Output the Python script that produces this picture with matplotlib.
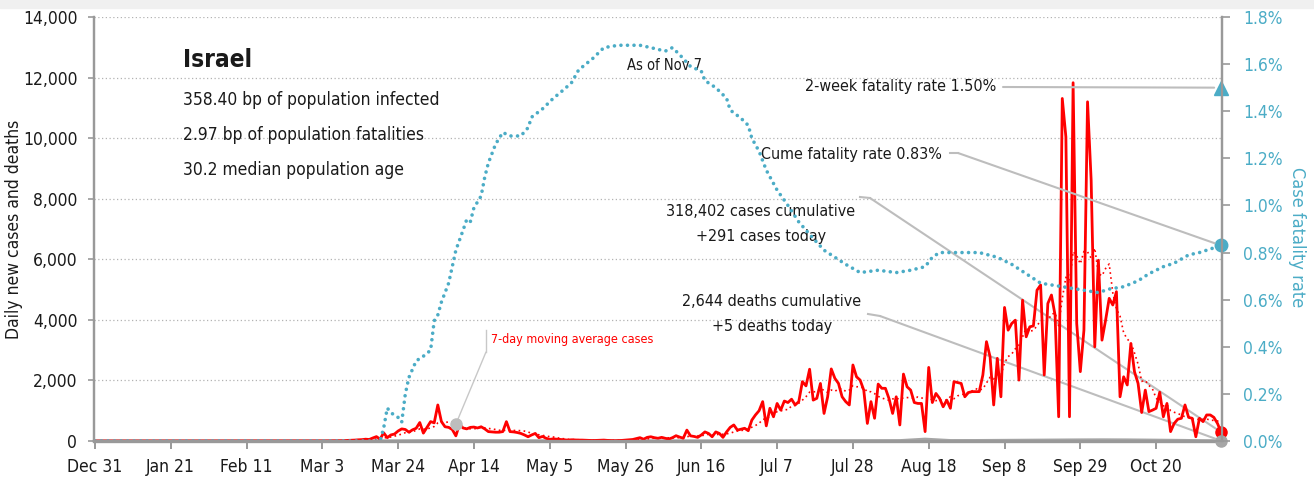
import pandas as pd
import numpy as np
import matplotlib
matplotlib.use("Agg")
import matplotlib.pyplot as plt
import matplotlib.font_manager as fm
from matplotlib.ticker import FuncFormatter, MultipleLocator

# pick a narrow face if one is installed
ttf = fm.fontManager.ttflist
names = {f.name for f in ttf}
narrow = [f for f in ttf if 'Narrow' in f.name or 'Condensed' in f.name
          or f.stretch in ('condensed', 'semi-condensed', 'extra-condensed')]
if 'Liberation Sans Narrow' in names:
    FAMILY = 'Liberation Sans Narrow'
elif narrow:
    FAMILY = narrow[0].name
    plt.rcParams['font.stretch'] = narrow[0].stretch
else:
    FAMILY = 'Roboto'
plt.rcParams['font.family'] = [FAMILY, 'DejaVu Sans']

# daily new cases (Mar 1 .. Nov 7 2020, zero before)
mar = [1, 2, 1, 3, 4, 2, 5, 8, 10, 20, 25, 30, 40, 45, 60, 50, 100, 145, 60, 270,
       110, 200, 230, 330, 400, 380, 290, 370, 420, 610, 260]
apr = [450, 640, 600, 1190, 640, 470, 450, 380, 170, 550, 430, 400, 450, 460, 430,
       470, 400, 310, 300, 290, 290, 310, 640, 310, 300, 280, 250, 200, 140, 200]
may = [250, 110, 150, 90, 55, 70, 60, 50, 40, 30, 40, 35, 30, 30, 25, 20, 15, 20,
       25, 30, 20, 15, 10, 15, 20, 30, 40, 50, 80, 110, 60]
jun = [120, 140, 110, 90, 120, 90, 65, 110, 175, 130, 90, 360, 170, 150, 120, 200,
       300, 250, 140, 300, 250, 120, 300, 450, 530, 360, 390, 420, 340, 690]
jul = [860, 1000, 1300, 500, 1080, 800, 1240, 1020, 1320, 1270, 1380, 1190, 1300,
       1960, 1820, 2370, 1350, 1410, 1900, 910, 1460, 2380, 2070, 1900, 1460, 1300,
       1190, 2510, 2120, 2010, 1680]
aug = [580, 1300, 750, 1880, 1740, 1740, 1400, 910, 1460, 530, 2210, 1790, 1680,
       1270, 1240, 1240, 310, 2430, 1270, 1570, 1410, 1130, 1350, 1080, 1960, 1930,
       1900, 1460, 1600, 1630, 1630]
sep = [1630, 2180, 3280, 2780, 1190, 2730, 1460, 4410, 3660, 3880, 3990, 2010, 4650,
       3440, 3770, 3800, 4980, 5150, 2180, 4540, 4820, 4160, 800, 11310, 10040, 800,
       11830, 3880, 2290, 3660]
oct_ = [11200, 8610, 3110, 5970, 3330, 3990, 4710, 4490, 4930, 1460, 2120, 1850,
        3220, 2290, 1900, 940, 1680, 970, 1020, 1080, 1610, 800, 1240, 310, 580, 720,
        750, 1190, 780, 750, 140]
nov = [750, 640, 860, 860, 780, 580, 291]

# daily deaths, rough weekly readings (line sits on the baseline)
death_weeks_start = '2020-03-16'
deaths_weekly = [0, 2, 8, 12, 12, 8, 5, 3, 1, 1, 0, 1, 0, 1, 1, 2, 4, 6, 8, 9, 10,
                 12, 60, 14, 15, 20, 25, 30, 35, 38, 35, 28, 20, 10]
deaths_today = 5

# case fatality rate (%), right axis
cfr_dates = ['2019-12-31', '2020-03-19', '2020-03-20', '2020-03-21', '2020-03-22',
             '2020-03-24', '2020-03-25', '2020-03-26', '2020-03-27', '2020-03-29',
             '2020-03-31', '2020-04-02', '2020-04-03', '2020-04-04', '2020-04-05',
             '2020-04-07', '2020-04-08', '2020-04-09', '2020-04-11', '2020-04-12',
             '2020-04-13', '2020-04-14', '2020-04-16', '2020-04-17', '2020-04-18',
             '2020-04-20', '2020-04-22', '2020-04-24', '2020-04-27', '2020-04-29',
             '2020-04-30', '2020-05-03', '2020-05-06', '2020-05-08', '2020-05-11',
             '2020-05-13', '2020-05-15', '2020-05-17', '2020-05-20', '2020-05-24',
             '2020-05-30', '2020-06-02', '2020-06-06', '2020-06-08', '2020-06-10',
             '2020-06-13', '2020-06-16', '2020-06-17', '2020-06-20', '2020-06-23',
             '2020-06-24', '2020-06-27', '2020-06-29', '2020-06-30', '2020-07-02',
             '2020-07-04', '2020-07-07', '2020-07-10', '2020-07-13', '2020-07-17',
             '2020-07-20', '2020-07-26', '2020-07-30', '2020-08-04', '2020-08-09',
             '2020-08-13', '2020-08-17', '2020-08-19', '2020-08-21', '2020-08-26',
             '2020-09-01', '2020-09-06', '2020-09-10', '2020-09-13', '2020-09-16',
             '2020-09-18', '2020-09-22', '2020-09-26', '2020-09-30', '2020-10-04',
             '2020-10-07', '2020-10-11', '2020-10-15', '2020-10-18', '2020-10-22',
             '2020-10-25', '2020-10-29', '2020-11-01', '2020-11-05', '2020-11-07']
cfr_pct = [0.0, 0.0, 0.055, 0.14, 0.12, 0.10, 0.08, 0.20, 0.27, 0.34, 0.36, 0.385,
           0.51, 0.535, 0.59, 0.67, 0.74, 0.81, 0.895, 0.94, 0.93, 0.99, 1.04, 1.12,
           1.18, 1.26, 1.31, 1.295, 1.295, 1.33, 1.375, 1.41, 1.455, 1.48, 1.52, 1.575,
           1.60, 1.625, 1.67, 1.68, 1.68, 1.67, 1.655, 1.67, 1.64, 1.59, 1.57, 1.53,
           1.50, 1.455, 1.405, 1.37, 1.34, 1.285, 1.23, 1.15, 1.065, 1.00, 0.93, 0.86,
           0.81, 0.75, 0.715, 0.725, 0.715, 0.725, 0.74, 0.78, 0.80, 0.80, 0.80, 0.78,
           0.75, 0.72, 0.69, 0.67, 0.66, 0.65, 0.64, 0.63, 0.645, 0.655, 0.68, 0.71,
           0.74, 0.755, 0.79, 0.80, 0.82, 0.83]
two_week_cfr = 1.50

RED = '#ff0000'
TEAL = '#4bacc6'
GREY = '#a6a6a6'
TXT = '#1a1a1a'
LEAD = '#bdbdbd'

all_days = pd.date_range('2019-12-31', '2020-11-07')
vals = mar + apr + may + jun + jul + aug + sep + oct_ + nov
cases = pd.Series(vals, index=pd.date_range('2020-03-01', periods=len(vals)))
cases = cases.reindex(all_days, fill_value=0)
ma7 = cases.rolling(7, min_periods=1).mean()

d_idx = pd.date_range(death_weeks_start, periods=len(deaths_weekly), freq='7D')
deaths = pd.Series(deaths_weekly, index=d_idx)
deaths[pd.Timestamp('2019-12-31')] = 0
deaths[all_days[-1]] = deaths_today
deaths = deaths.sort_index()

cfr = pd.Series(cfr_pct, index=pd.to_datetime(cfr_dates))

fig = plt.figure(figsize=(13.14, 4.8), dpi=100)
fig.patches.append(plt.Rectangle((0, 1 - 8 / 480), 1, 8 / 480, transform=fig.transFigure,
                                 color='#f0f0f0', zorder=0))
ax = fig.add_axes([94 / 1314, 39 / 480, 1128 / 1314, 424 / 480])
ax2 = ax.twinx()


def af(px, py):
    # pixel in the 1314x480 picture -> axes fraction
    return ((px - 94) / 1128, (441 - py) / 424)


ax.plot(cases.index, cases.values, color=RED, lw=2, zorder=4)
ax.plot(ma7.index, ma7.values, color=RED, lw=1.2, ls=(0, (1, 2)), zorder=4)
ax.plot(deaths.index, deaths.values, color=GREY, lw=2.2, zorder=3)

ax2.plot(cfr.index, cfr.values, color=TEAL, lw=2.6, ls=(0, (0.01, 1.8)),
         dash_capstyle='round')

end = all_days[-1]
ax.plot([end], [cases.iloc[-1]], 'o', color=RED, ms=8, zorder=6, clip_on=False)
ax.plot([end], [deaths_today], 'o', color=GREY, ms=8, zorder=6, clip_on=False)
ax2.plot([end], [cfr.iloc[-1]], 'o', color=TEAL, ms=9, clip_on=False)
ax2.plot([end], [two_week_cfr], '^', color=TEAL, ms=10, clip_on=False)

# moving-average callout dot
ma_pt = pd.Timestamp('2020-04-09')
ax.plot([ma_pt], [ma7[ma_pt]], 'o', color='#bdbdbd', ms=8, zorder=5)

x0 = pd.Timestamp('2019-12-31') - pd.Timedelta(hours=6)
x1 = end + pd.Timedelta(hours=6)
ax.set_xlim(x0, x1)
ax.set_ylim(0, 14000)
ax2.set_ylim(0, 1.8)

ticks = pd.date_range('2019-12-31', '2020-10-20', freq='21D')
ax.set_xticks(ticks)
ax.set_xticklabels([t.strftime('%b ') + str(t.day) for t in ticks])
ax.yaxis.set_major_locator(MultipleLocator(2000))
ax.yaxis.set_major_formatter(FuncFormatter(lambda v, p: f'{int(v):,}'))
ax2.yaxis.set_major_locator(MultipleLocator(0.2))
ax2.yaxis.set_major_formatter(FuncFormatter(lambda v, p: f'{v:.1f}%'))

ax.yaxis.grid(True, ls=(0, (1, 2)), color='#b3b3b3', lw=0.9)
ax.set_axisbelow(True)

for a in (ax, ax2):
    a.spines['top'].set_visible(False)
    for s in ('left', 'right', 'bottom'):
        a.spines[s].set_color('#999999')
        a.spines[s].set_linewidth(1.6)
ax.spines['bottom'].set_linewidth(2.4)

ax.tick_params(axis='x', colors='#999999', labelcolor=TXT, labelsize=12.5, length=6, width=1.4, pad=6)
ax.tick_params(axis='y', colors='#999999', labelcolor=TXT, labelsize=12.5, length=4, width=1.2, pad=8)
ax2.tick_params(axis='y', colors='#999999', labelcolor=TEAL, labelsize=12.5, length=6, width=1.2, pad=9)

ax.set_ylabel('Daily new cases and deaths', fontsize=12.5, color=TXT, va='center')
ax.yaxis.set_label_coords((14 - 94) / 1128, 0.5)
ax2.set_ylabel('Case fatality rate', fontsize=13, color=TEAL, rotation=270, va='center')
ax2.yaxis.set_label_coords((1297 - 94) / 1128, 0.48)

# text blocks
ax.text(*af(183, 60), 'Israel', transform=ax.transAxes, fontsize=17.5, color=TXT,
        va='center', ha='left', fontweight='semibold')
stats = ['358.40 bp of population infected', '2.97 bp of population fatalities',
         '30.2 median population age']
for i, s in enumerate(stats):
    ax.text(*af(183, 100 + 35 * i), s, transform=ax.transAxes, fontsize=12.5,
            color=TXT, va='center', ha='left')

ax.text(*af(665, 65), 'As of Nov 7', transform=ax.transAxes, fontsize=10.5,
        color=TXT, va='center', ha='center')

ax.text(*af(996, 87), f'2-week fatality rate {two_week_cfr:.2f}%', transform=ax.transAxes,
        fontsize=11.5, color=TXT, va='center', ha='right')
ax2.annotate('', xy=(end, two_week_cfr), xycoords='data', xytext=af(1003, 87),
             textcoords='axes fraction',
             arrowprops=dict(arrowstyle='-', color=LEAD, lw=1.5, shrinkA=0, shrinkB=5))

ax.text(*af(942, 155), f'Cume fatality rate {cfr.iloc[-1]:.2f}%', transform=ax.transAxes,
        fontsize=11.5, color=TXT, va='center', ha='right')
ax.plot(*zip(af(950, 153), af(958, 153)), transform=ax.transAxes, color=LEAD, lw=1.5)
ax2.annotate('', xy=(end, cfr.iloc[-1]), xycoords='data', xytext=af(958, 153),
             textcoords='axes fraction',
             arrowprops=dict(arrowstyle='-', color=LEAD, lw=1.5, shrinkA=0, shrinkB=5))

total_cases = 318402
total_deaths = 2644
ax.text(*af(761, 212), f'{total_cases:,} cases cumulative', transform=ax.transAxes,
        fontsize=11.5, color=TXT, va='center', ha='center')
ax.text(*af(761, 237), f'+{cases.iloc[-1]:,} cases today', transform=ax.transAxes,
        fontsize=11.5, color=TXT, va='center', ha='center')
ax.plot(*zip(af(860, 197), af(870, 198)), transform=ax.transAxes, color=LEAD, lw=1.5)
ax.annotate('', xy=(end, cases.iloc[-1]), xycoords='data', xytext=af(870, 198),
            textcoords='axes fraction',
            arrowprops=dict(arrowstyle='-', color=LEAD, lw=1.5, shrinkA=0, shrinkB=4))

ax.text(*af(772, 302), f'{total_deaths:,} deaths cumulative', transform=ax.transAxes,
        fontsize=11.5, color=TXT, va='center', ha='center')
ax.text(*af(772, 327), f'+{deaths_today} deaths today', transform=ax.transAxes,
        fontsize=11.5, color=TXT, va='center', ha='center')
ax.plot(*zip(af(868, 314), af(880, 316)), transform=ax.transAxes, color=LEAD, lw=1.5)
ax.annotate('', xy=(end, deaths_today), xycoords='data', xytext=af(880, 316),
            textcoords='axes fraction',
            arrowprops=dict(arrowstyle='-', color=LEAD, lw=1.5, shrinkA=0, shrinkB=4))

ax.text(*af(491, 340), '7-day moving average cases', transform=ax.transAxes,
        fontsize=9, color=RED, va='center', ha='left')
ax.plot(*zip(af(486, 330), af(486, 352)), transform=ax.transAxes, color='#c8c8c8', lw=1)
ax.annotate('', xy=(ma_pt, ma7[ma_pt]), xycoords='data', xytext=af(486, 352),
            textcoords='axes fraction',
            arrowprops=dict(arrowstyle='-', color='#c8c8c8', lw=1, shrinkA=0, shrinkB=3))

fig.savefig('out.png', dpi=100)
